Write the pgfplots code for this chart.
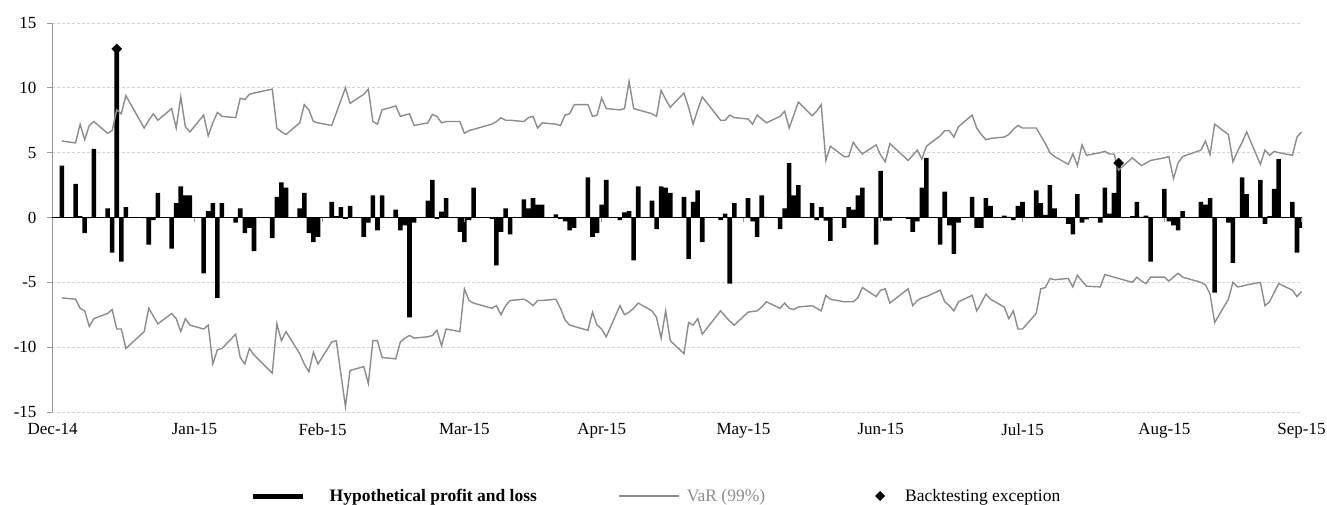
\documentclass[border=0pt]{standalone}
\usepackage{fontspec}
\setmainfont{Liberation Serif}
\usepackage{pgfplots}
\pgfplotsset{compat=1.18}
\usepackage{pgfplotstable}
\definecolor{vargray}{RGB}{140,140,140}
\definecolor{gridgray}{RGB}{212,212,212}
\definecolor{axisgray}{RGB}{150,150,150}

% day 0 = 31 Dec 2014 (axis labelled at month ends)
\pgfplotstableread{
x y
2 4.0
5 2.6
6 0.1
7 -1.2
8 -0.05
9 5.3
12 0.7
13 -2.7
14 13.0
15 -3.4
16 0.8
20 -0.05
21 -2.1
22 -0.2
23 1.9
26 -2.4
27 1.1
28 2.4
29 1.7
30 1.7
33 -4.3
34 0.5
35 1.1
36 -6.2
37 1.1
40 -0.4
41 0.7
42 -1.2
43 -0.8
44 -2.6
48 -1.6
49 1.6
50 2.7
51 2.3
54 0.7
55 1.9
56 -1.2
57 -1.9
58 -1.5
61 1.2
62 0.1
63 0.8
64 -0.1
65 0.9
68 -1.5
69 -0.4
70 1.7
71 -1.0
72 1.7
75 0.6
76 -1.0
77 -0.6
78 -7.7
79 -0.4
82 1.3
83 2.9
84 -0.1
85 0.45
86 1.5
89 -1.1
90 -1.9
91 -0.2
92 2.3
96 -0.1
97 -3.7
98 -1.1
99 0.7
100 -1.3
103 1.4
104 0.7
105 1.5
106 1.0
107 1.0
110 0.25
111 -0.1
112 -0.3
113 -1.0
114 -0.8
117 3.1
118 -1.5
119 -1.2
120 1.0
121 2.9
124 -0.2
125 0.4
126 0.5
127 -3.3
128 2.4
131 1.3
132 -0.9
133 2.4
134 2.3
135 1.9
138 1.6
139 -3.2
140 1.2
141 2.1
142 -1.9
146 -0.2
147 0.3
148 -5.1
149 1.1
152 1.5
153 -0.3
154 -1.5
155 1.7
156 0.05
159 -0.9
160 0.7
161 4.2
162 1.7
163 2.5
166 1.1
167 -0.2
168 0.8
169 -0.25
170 -1.8
173 -0.8
174 0.8
175 0.6
176 1.7
177 2.3
180 -2.1
181 3.6
182 -0.25
183 -0.25
187 -0.1
188 -1.1
189 -0.3
190 2.3
191 4.6
194 -2.1
195 2.0
196 -0.6
197 -2.8
198 -0.4
201 1.6
202 -0.8
203 -0.8
204 1.5
205 0.9
208 0.15
209 0.05
210 -0.2
211 0.9
212 1.2
215 2.1
216 1.1
217 0.2
218 2.5
219 0.7
222 -0.5
223 -1.3
224 1.8
225 -0.4
226 -0.15
229 -0.4
230 2.3
231 0.3
232 1.9
233 4.2
236 0.1
237 1.2
238 0.05
239 0.15
240 -3.4
243 2.2
244 -0.3
245 -0.6
246 -1.0
247 0.5
251 1.2
252 1.0
253 1.5
254 -5.8
257 -0.4
258 -3.5
260 3.1
261 1.8
264 2.9
265 -0.5
266 0.1
267 2.2
268 4.5
271 1.2
272 -2.7
273 -0.8
}\pnl

\pgfplotstableread{
x y
2 5.9
5 5.75
6 7.2
7 6.0
8 7.1
9 7.4
12 6.5
13 6.7
14 8.3
15 8.0
16 9.4
20 6.9
21 7.5
22 8.0
23 7.5
26 8.4
27 6.9
28 9.3
29 7.0
30 6.6
33 7.9
34 6.3
35 7.3
36 8.1
37 7.8
40 7.7
41 9.2
42 9.1
43 9.5
44 9.6
48 9.9
49 6.9
50 6.6
51 6.4
54 7.3
55 8.7
56 8.3
57 7.4
58 7.3
61 7.1
64 10.0
65 8.8
68 9.5
69 9.9
70 7.4
71 7.2
72 8.3
75 8.6
76 7.8
77 7.9
78 8.0
79 7.1
82 7.3
83 7.95
84 7.8
85 7.3
86 7.4
89 7.4
90 6.5
91 6.7
92 6.8
96 7.2
97 7.4
98 7.7
99 7.5
100 7.5
103 7.4
104 7.7
105 7.8
106 6.9
107 7.3
110 7.2
111 7.1
112 7.9
113 8.0
114 8.7
117 8.7
118 7.8
119 7.9
120 9.2
121 8.4
124 8.3
125 8.4
126 10.5
127 8.4
128 8.3
131 8.0
132 7.8
133 9.8
134 9.1
135 8.5
138 9.6
139 8.5
140 7.2
141 8.3
142 9.3
146 7.5
147 7.5
148 7.9
149 7.7
152 7.6
153 7.2
154 7.9
155 7.6
156 7.3
159 7.8
160 8.2
161 6.9
162 7.9
163 8.9
166 7.85
167 8.2
168 8.7
169 4.4
170 5.5
173 4.7
174 4.7
175 5.8
176 5.3
177 4.9
180 5.6
181 4.8
182 4.3
183 5.7
187 4.4
188 4.8
189 5.2
190 4.5
191 5.5
194 6.3
195 6.7
196 6.7
197 6.2
198 7.0
201 7.9
202 6.9
203 6.4
204 6.0
205 6.1
208 6.2
209 6.4
210 6.8
211 7.1
212 6.9
215 6.9
216 6.3
217 5.7
218 5.0
219 4.7
222 4.1
223 4.9
224 4.0
225 5.6
226 4.8
229 5.0
230 5.1
231 4.9
232 4.9
233 3.65
236 4.6
237 4.3
238 4.0
239 4.2
240 4.4
243 4.6
244 4.7
245 3.0
246 4.2
247 4.7
251 5.2
252 5.9
253 4.85
254 7.2
257 6.4
258 4.3
259 5.1
260 5.8
261 6.6
264 4.1
265 5.2
266 4.8
267 5.1
268 5.0
271 4.8
272 6.2
273 6.6
}\varup

\pgfplotstableread{
x y
2 -6.2
5 -6.3
6 -7.0
7 -7.2
8 -8.4
9 -7.8
12 -7.4
13 -7.1
14 -8.6
15 -8.6
16 -10.1
20 -8.8
21 -7.0
22 -7.6
23 -8.2
26 -7.4
27 -7.8
28 -8.8
29 -7.8
30 -8.3
33 -8.6
34 -8.3
35 -11.3
36 -10.2
37 -10.1
40 -9.0
41 -10.8
42 -11.3
43 -10.1
44 -10.6
48 -12.0
49 -8.2
50 -9.5
51 -8.8
54 -10.5
55 -11.3
56 -11.9
57 -10.4
58 -11.3
61 -9.6
62 -9.5
64 -14.6
65 -11.8
68 -11.5
69 -12.8
70 -9.5
71 -9.5
72 -10.8
75 -10.9
76 -9.6
77 -9.3
78 -9.1
79 -9.3
82 -9.2
83 -9.1
84 -8.7
85 -9.9
86 -8.6
89 -8.8
90 -5.5
91 -6.4
92 -6.6
96 -7.0
97 -6.8
98 -7.5
99 -6.8
100 -6.4
103 -6.3
104 -6.5
105 -6.8
106 -6.4
107 -6.4
110 -6.3
111 -7.0
112 -7.9
113 -8.3
114 -8.4
117 -8.7
118 -7.3
119 -8.3
120 -8.6
121 -9.2
124 -6.8
125 -7.5
126 -7.3
127 -7.0
128 -6.6
131 -7.2
132 -7.7
133 -9.3
134 -7.2
135 -9.5
138 -10.5
139 -8.1
140 -8.3
141 -7.8
142 -9.0
146 -7.2
147 -7.6
148 -8.0
149 -8.3
152 -7.3
153 -7.25
154 -7.2
155 -6.9
156 -6.5
159 -7.0
160 -6.6
161 -7.0
162 -7.1
163 -6.9
166 -6.8
167 -7.0
168 -7.2
169 -6.0
170 -6.3
173 -6.5
174 -6.5
175 -6.5
176 -6.2
177 -5.4
180 -6.1
181 -5.6
182 -5.5
183 -6.6
187 -5.5
188 -6.8
189 -6.4
190 -6.2
191 -6.1
194 -5.6
195 -6.5
196 -6.8
197 -7.2
198 -6.5
201 -6.0
202 -7.2
203 -6.6
204 -5.9
205 -6.3
208 -6.9
209 -7.8
210 -7.2
211 -8.6
212 -8.6
215 -7.4
216 -5.5
217 -5.4
218 -4.7
219 -4.8
222 -4.7
223 -5.35
224 -4.45
225 -4.9
226 -5.3
229 -5.35
230 -4.4
231 -4.5
232 -4.6
233 -4.7
236 -5.0
237 -4.6
238 -4.9
239 -5.1
240 -4.6
243 -4.6
244 -4.9
245 -4.6
246 -4.3
247 -4.6
251 -5.0
252 -5.2
253 -5.9
254 -8.1
257 -6.3
258 -5.0
259 -5.35
260 -5.3
261 -5.2
264 -5.0
265 -6.8
266 -6.5
267 -5.8
268 -5.1
271 -5.6
272 -6.1
273 -5.7
}\vardown

\pgfplotstableread{
x y
14 13.0
233 4.2
}\exc

\begin{document}
\begin{tikzpicture}
\path[use as bounding box] (0,0) rectangle (1327pt,504pt);
\begin{axis}[
  at={(52pt,92pt)}, anchor=south west,
  scale only axis, width=1250pt, height=389pt,
  xmin=-0.15, xmax=273.1, ymin=-15, ymax=15,
  axis x line*=bottom, axis y line*=left,
  x axis line style={draw=none},
  y axis line style={axisgray, line width=0.8pt, -},
  xtick={0,31,59,90,120,151,181,212,243,273},
  xticklabels={Dec-14,Jan-15,Feb-15,Mar-15,Apr-15,May-15,Jun-15,Jul-15,Aug-15,Sep-15},
  x tick style={draw=none},
  ytick={-15,-10,...,15},
  y tick style={axisgray, line width=0.8pt},
  tick align=outside, major tick length=5pt,
  ymajorgrids,
  grid style={gridgray, line width=0.8pt, dash pattern=on 3pt off 2pt},
  /pgf/number format/assume math mode=true,
  ticklabel style={font=\fontsize{17}{20}\selectfont},
  xticklabel style={yshift=-3pt},
  yticklabel style={xshift=-7pt},
  legend columns=3,
  legend style={at={(0.1584,-0.216)}, anchor=west, draw=none, fill=none,
    inner sep=0pt, font=\fontsize{17.5}{21}\selectfont,
    nodes={inner xsep=0pt, inner ysep=2pt},
    /tikz/every even column/.append style={column sep=80pt}},
]
\addplot[ybar, bar width=1, bar shift=0pt, fill=black, draw=none,
  legend image code/.code={\path[draw=none, fill=none] (0pt,-3pt) rectangle (77pt,3pt);
    \draw[black, line width=5pt] (0pt,0pt) -- (50pt,0pt);}]
  table {\pnl};
\addlegendentry{\textbf{Hypothetical profit and loss}}
\addplot[vargray, line width=1.4pt, mark=none,
  legend image code/.code={\path[draw=none, fill=none] (0pt,-3pt) rectangle (70pt,3pt);
    \draw[vargray, line width=1.4pt] (2pt,0pt) -- (62pt,0pt);}]
  table {\varup};
\addlegendentry{\textcolor{vargray}{VaR (99\%)}}
\addplot[vargray, line width=1.4pt, mark=none, forget plot] table {\vardown};
\addplot[only marks, mark=square*, mark size=3.5pt, mark options={rotate=45, fill=black, draw=black},
  legend image code/.code={\path[draw=none, fill=none] (0pt,-3pt) rectangle (60pt,3pt);
    \fill[black, draw=none] (35pt,0pt) +(0pt,5pt) -- +(5pt,0pt) -- +(0pt,-5pt) -- +(-5pt,0pt) -- cycle;}]
  table {\exc};
\addlegendentry{Backtesting exception}
\draw[black, line width=0.8pt] (axis cs:-0.15,0) -- (axis cs:273.1,0);
\pgfplotsinvokeforeach{0,31,59,90,120,151,181,212,243,273}{
  \draw[axisgray, line width=0.8pt] (axis cs:#1,0) -- ++(0pt,-4pt);
}
\end{axis}
\end{tikzpicture}
\end{document}
